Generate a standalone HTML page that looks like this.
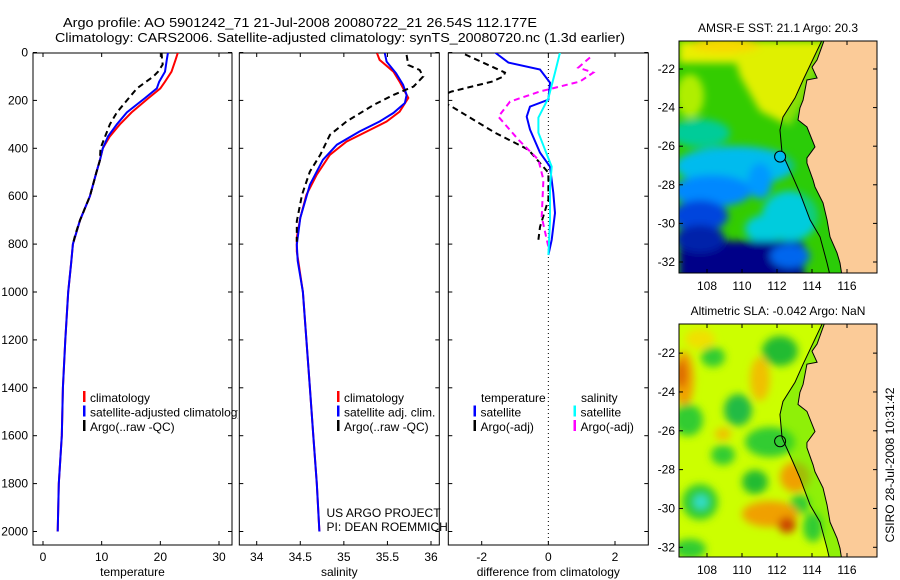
<!DOCTYPE html>
<html><head><meta charset="utf-8"><style>
html,body{margin:0;padding:0;background:#fff;}
svg{display:block;font-family:"Liberation Sans",sans-serif;}
</style></head><body>
<svg id="fig" width="900" height="580" viewBox="0 0 900 580" xmlns="http://www.w3.org/2000/svg">
<defs>
<clipPath id="c1"><rect x="33" y="53" width="199" height="492"/></clipPath>
<clipPath id="c2"><rect x="239.3" y="53" width="200" height="492"/></clipPath>
<clipPath id="c3"><rect x="448.3" y="53" width="200" height="492"/></clipPath>
<clipPath id="cleg1"><rect x="33" y="380" width="205" height="60"/></clipPath>
<clipPath id="cm1"><rect x="679" y="41" width="198" height="232"/></clipPath>
<clipPath id="cm2"><rect x="679" y="324" width="198" height="233"/></clipPath>
<filter id="blur" x="-30%" y="-30%" width="160%" height="160%"><feGaussianBlur stdDeviation="4"/></filter>
</defs>
<text x="63" y="27" font-size="13" textLength="474" lengthAdjust="spacingAndGlyphs">Argo profile: AO 5901242_71 21-Jul-2008 20080722_21 26.54S 112.177E</text>
<text x="55" y="42" font-size="13" textLength="570" lengthAdjust="spacingAndGlyphs">Climatology: CARS2006. Satellite-adjusted climatology: synTS_20080720.nc (1.3d earlier)</text>
<g id="root"></g>
</svg>
<script>
// ---------- data ----------
const depthTicks = [0,200,400,600,800,1000,1200,1400,1600,1800,2000];
const tempTicks = [0,10,20,30];
const salTicks = [34,34.5,35,35.5,36];
const diffTicks = [-2,0,2];

const climDepth = [0,30,80,122,150,190,250,300,350,400,450,500,600,700,800,877,1000,1200,1400,1600,1800,2000];
const climTemp = [23.0,22.6,21.9,20.8,20.0,18.0,15.1,13.1,11.4,10.2,9.7,9.1,8.0,6.3,5.1,4.8,4.3,3.8,3.4,3.2,2.7,2.5];
const satTemp = [21.3,21.1,20.8,19.8,19.4,17.4,14.3,12.6,11.1,10.2,9.7,9.1,8.0,6.3,5.1,4.8,4.3,3.8,3.4,3.2,2.7,2.5];
const argoDepth = [0,30,50,80,100,150,200,250,300,350,400,450,500,600,700,760,790];
const argoTemp = [20.2,20.3,20.4,19.6,18.8,16.0,14.3,12.6,11.4,10.6,9.8,9.7,9.1,8.0,6.3,5.5,5.2];

const salClimDepth = [3,31,80,122,190,247,288,323,372,427,510,594,690,773,831,877,1000,1200,1400,1600,1800,2000];
const salClim = [35.38,35.41,35.57,35.64,35.74,35.64,35.49,35.30,35.03,34.84,34.69,34.57,34.50,34.46,34.46,34.48,34.53,34.57,34.61,34.65,34.69,34.72];
const salSatDepth = [3,38,87,135,177,211,252,288,330,385,448,552,690,802,870,1000,1200,1400,1600,1800,2000];
const salSat = [35.47,35.49,35.60,35.68,35.72,35.70,35.57,35.41,35.18,34.92,34.76,34.61,34.50,34.46,34.47,34.53,34.57,34.61,34.65,34.69,34.72];
const salArgoDepth = [10,52,73,100,142,177,219,288,344,427,497,594,705,790];
const salArgo = [35.72,35.74,35.87,35.91,35.80,35.57,35.34,35.03,34.84,34.73,34.61,34.52,34.46,34.46];

const dTSatDepth = [0,42,71,126,197,226,268,322,418,477,586,670,782,845];
const dTSat = [-1.6,-1.2,-0.25,0.05,0,-0.55,-0.65,-0.55,-0.25,0.05,0.15,0.2,0.1,0];
const dTArgoDepth = [8,84,100,122,163,190,226,335,406,502,615,728,782];
const dTArgo = [-2.5,-1.3,-1.35,-1.7,-2.9,-3.4,-2.9,-1.6,-0.6,0,0,-0.25,-0.3];
const dSSatDepth = [0,84,190,272,335,406,477,560,700,845];
const dSSat = [0.35,0.2,0,-0.3,-0.3,-0.1,0.1,0.05,0.05,0];
const dSArgoDepth = [21,63,84,121,163,205,268,364,448,531,686,812];
const dSArgo = [1.25,0.9,1.35,0.95,-0.25,-1.15,-1.5,-0.9,-0.3,-0.15,-0.2,0];

const argoLon = 112.177, argoLat = 26.54;
const coastLon = [114.74,114.29,114.0,114.29,113.71,113.49,113.31,113.2,113.71,114.17,113.71,113.71,114.06,114.17,114.63,114.86,115.03,115.43,115.6,115.71];
const coastLat = [20.4,21.53,21.9,22.47,22.57,23.61,24.02,24.64,25.0,26.04,26.61,26.87,27.75,28.11,28.94,29.82,30.7,31.53,32.05,32.7];
const shelfLon = [114.63,113.49,113.03,112.34,112.17,112.29,112.91,113.31,113.89,114.46,114.86,115.03];
const shelfLat = [20.4,22.57,23.5,24.49,25.16,26.36,27.6,28.43,29.82,30.7,32.05,32.7];
const lonTicks = [108,110,112,114,116];
const latTicks = [22,24,26,28,30,32];

// ---------- helpers ----------
const NS = "http://www.w3.org/2000/svg";
const root = document.getElementById('root');
function mk(tag, attrs, parent){
  const e = document.createElementNS(NS, tag);
  for (const k in attrs) e.setAttribute(k, attrs[k]);
  (parent||root).appendChild(e);
  return e;
}
const yD = d => 52.5 + d*0.2395;
function scaleX(v0, p0, v1, p1){ return v => p0 + (v-v0)*(p1-p0)/(v1-v0); }
const xT = scaleX(0, 43, 30, 219);
const xS = scaleX(34, 256.7, 36, 431);
const xDf = scaleX(-2, 481.7, 2, 615);

function line(g, xs, ds, fx, color, w, dash, name){
  const pts = xs.map((v,i)=> fx(v).toFixed(1)+','+yD(ds[i]).toFixed(1)).join(' ');
  const p = mk('polyline', {points:pts, fill:'none', stroke:color, 'stroke-width':w}, g);
  if (dash) p.setAttribute('stroke-dasharray', dash);
  
  
  return p;
}

function panel(x0, x1, fx, ticks, tickFmt, title, clip, showY, name){
  const g = mk('g', {});
  
  
  const fr = mk('rect', {x:x0, y:53, width:x1-x0, height:492, fill:'#fff', stroke:'#000', 'stroke-width':1}, g);
  
  
  ticks.forEach(t=>{
    const x = fx(t);
    mk('line',{x1:x,y1:53,x2:x,y2:57,stroke:'#000'},g);
    mk('line',{x1:x,y1:545,x2:x,y2:541,stroke:'#000'},g);
    const tl = mk('text',{x:x,y:561,'font-size':12,'text-anchor':'middle'},g);
    tl.textContent = tickFmt(t);
    
    
  });
  depthTicks.forEach(d=>{
    const y = yD(d);
    mk('line',{x1:x0,y1:y,x2:x0+4,y2:y,stroke:'#000'},g);
    mk('line',{x1:x1,y1:y,x2:x1-4,y2:y,stroke:'#000'},g);
    if (showY){
      const tl = mk('text',{x:28,y:y+4,'font-size':12,'text-anchor':'end'},g);
      tl.textContent = d;
      
      
    }
  });
  const at = mk('text',{x:(x0+x1)/2,y:576,'font-size':12,'text-anchor':'middle'},g);
  at.textContent = title;
  
  
  const cg = mk('g',{'clip-path':'url(#'+clip+')'},g);
  return cg;
}

function legend(g, x, y, color, label, name){
  const m = mk('rect',{x:x-1, y:y-11, width:2.5, height:11, fill:color}, g);
  
  
  const t = mk('text',{x:x+6, y:y, 'font-size':12}, g);
  t.textContent = label;
  
  
}

// ---------- panel 1 temperature ----------
const p1 = panel(33, 232, xT, tempTicks, String, 'temperature', 'c1', true, 'temperature-panel');
line(p1, climTemp, climDepth, xT, '#ff0000', 2, null, 'climatology-temp-line');
line(p1, satTemp, climDepth, xT, '#0000ff', 2, null, 'satellite-temp-line');
line(p1, argoTemp, argoDepth, xT, '#000000', 2, '6,4', 'argo-temp-line');

// ---------- panel 2 salinity ----------
const p2 = panel(239.3, 439.3, xS, salTicks, String, 'salinity', 'c2', false, 'salinity-panel');
line(p2, salClim, salClimDepth, xS, '#ff0000', 2, null, 'climatology-sal-line');
line(p2, salSat, salSatDepth, xS, '#0000ff', 2, null, 'satellite-sal-line');
line(p2, salArgo, salArgoDepth, xS, '#000000', 2, '6,4', 'argo-sal-line');

const lg1 = mk('g',{'clip-path':'url(#cleg1)'});


legend(lg1, 84, 402, '#ff0000', 'climatology', 'legend-climatology');
legend(lg1, 84, 416.5, '#0000ff', 'satellite-adjusted climatology', 'legend-satellite-adjusted');
legend(lg1, 84, 431, '#000000', 'Argo(..raw -QC)', 'legend-argo');

const lg2 = mk('g',{});


legend(lg2, 338, 402, '#ff0000', 'climatology', 'legend-climatology');
legend(lg2, 338, 416.5, '#0000ff', 'satellite adj. clim.', 'legend-satellite-adj');
legend(lg2, 338, 431, '#000000', 'Argo(..raw -QC)', 'legend-argo');
const us1 = mk('text',{x:326.5,y:517,'font-size':12});
us1.textContent = 'US ARGO PROJECT';


const us2 = mk('text',{x:326.5,y:531,'font-size':12});
us2.textContent = 'PI: DEAN ROEMMICH';



// ---------- panel 3 difference ----------
const p3 = panel(448.3, 648.3, xDf, diffTicks, String, 'difference from climatology', 'c3', false, 'difference-panel');
const zl = mk('line',{x1:xDf(0),y1:53,x2:xDf(0),y2:545,stroke:'#000','stroke-width':1,'stroke-dasharray':'1,3'},p3);


line(p3, dTArgo, dTArgoDepth, xDf, '#000000', 2, '6,4', 'argo-temp-diff-line');
line(p3, dSArgo, dSArgoDepth, xDf, '#ff00ff', 2, '6,4', 'argo-sal-diff-line');
line(p3, dTSat, dTSatDepth, xDf, '#0000ff', 2, null, 'satellite-temp-diff-line');
line(p3, dSSat, dSSatDepth, xDf, '#00ffff', 2, null, 'satellite-sal-diff-line');
const lg3 = mk('g',{});


const h1 = mk('text',{x:481,y:402,'font-size':12},lg3);
h1.textContent = 'temperature';


const h2 = mk('text',{x:581,y:402,'font-size':12},lg3);
h2.textContent = 'salinity';


legend(lg3, 474.5, 416.5, '#0000ff', 'satellite', 'legend-temp-satellite');
legend(lg3, 474.5, 431, '#000000', 'Argo(-adj)', 'legend-temp-argo');
legend(lg3, 574.5, 416.5, '#00ffff', 'satellite', 'legend-sal-satellite');
legend(lg3, 574.5, 431, '#ff00ff', 'Argo(-adj)', 'legend-sal-argo');

// ---------- maps ----------
function makeMap(top, bottom, latTop, latBot, clip, title, blobs, bg, name, fillCircle, shelfColor){
  const g = mk('g',{});
  
  
  const mx = lon => 707 + (lon-108)*17.5;
  const my = lat => top + (lat-latTop)*(bottom-top)/(latBot-latTop);
  const cg = mk('g',{'clip-path':'url(#'+clip+')'},g);
  const b = mk('rect',{x:679,y:top,width:198,height:bottom-top,fill:bg},cg);
  
  
  const bg2 = mk('g',{filter:'url(#blur)'},cg);
  blobs.forEach(bl=>{
    if (bl.r) mk('rect',{x:bl.r[0],y:bl.r[1]+top,width:bl.r[2],height:bl.r[3],fill:bl.c},bg2);
    else if (bl.p) mk('polygon',{points:bl.p.map((v,i)=> i%2? v+top : v).join(','), fill:bl.c},bg2);
    else mk('ellipse',{cx:bl.e[0],cy:bl.e[1]+top,rx:bl.e[2],ry:bl.e[3],fill:bl.c},bg2);
  });
  const sp = shelfLon.map((l,i)=> mx(l)+','+my(shelfLat[i])).concat(coastLon.slice().reverse().map((l,i)=> mx(l)+','+my(coastLat[coastLat.length-1-i])));
  const shelfFill = mk('polygon',{points:sp.join(' '), fill:shelfColor, opacity:0.45},cg);
  
  
  const landPts = coastLon.map((l,i)=> mx(l)+','+my(coastLat[i])).concat([ '880,'+(bottom+5), '880,'+(top-5) ]);
  const land = mk('polygon',{points:landPts.join(' '), fill:'#fbcb98', stroke:'#000','stroke-width':1},cg);
  
  
  const shelf = mk('polyline',{points:shelfLon.map((l,i)=> mx(l)+','+my(shelfLat[i])).join(' '), fill:'none', stroke:'#000','stroke-width':1},cg);
  
  
  const c = mk('circle',{cx:mx(argoLon),cy:my(argoLat),r:5.5,fill:fillCircle,stroke:'#000','stroke-width':1},cg);
  
  
  const fr = mk('rect',{x:679,y:top,width:198,height:bottom-top,fill:'none',stroke:'#000','stroke-width':1},g);
  
  
  lonTicks.forEach(l=>{
    const x = mx(l);
    mk('line',{x1:x,y1:bottom,x2:x,y2:bottom-4,stroke:'#000'},g);
    mk('line',{x1:x,y1:top,x2:x,y2:top+4,stroke:'#000'},g);
    const t = mk('text',{x:x,y:bottom+17,'font-size':12,'text-anchor':'middle'},g);
    t.textContent = l;
    
    
  });
  latTicks.forEach(l=>{
    const y = my(l);
    mk('line',{x1:679,y1:y,x2:683,y2:y,stroke:'#000'},g);
    mk('line',{x1:877,y1:y,x2:873,y2:y,stroke:'#000'},g);
    const t = mk('text',{x:675,y:y+4,'font-size':12,'text-anchor':'end'},g);
    t.textContent = '-'+l;
    
    
  });
  const tt = mk('text',{x:778,y:top-9,'font-size':12,'text-anchor':'middle'},g);
  tt.textContent = title;
  
  
}

const sstBlobs = [
  {r:[679,0,198,22], c:'#e8f000'},
  {p:[730,0, 830,0, 805,60, 790,85, 760,70, 740,35], c:'#e0f000'},
  {e:[725,4,35,8], c:'#f8d800'},
  {e:[690,55,14,22], c:'#b0ee00'},
  {e:[700,92,30,14], c:'#00cc99'},
  {e:[735,125,60,20], c:'#00bbee'},
  {e:[712,150,40,16], c:'#0088ff'},
  {e:[760,140,12,18], c:'#0099ff'},
  {e:[790,175,28,25], c:'#00ccdd'},
  {e:[765,188,20,14], c:'#00ccdd'},
  {e:[700,175,28,16], c:'#0044dd'},
  {r:[679,200,125,40], c:'#000088'},
  {e:[700,198,25,14], c:'#0022aa'},
  {e:[790,215,20,12], c:'#0066ee'}
];
makeMap(41, 273, 20.55, 32.57, 'cm1', 'AMSR-E SST: 21.1 Argo: 20.3', sstBlobs, '#33cc00', 'sst-map', '#00bbee', '#22cc11');

const slaBlobs = [
  {e:[684,55,10,28], c:'#f0a000'},
  {e:[681,50,6,14], c:'#dd6600'},
  {e:[713,33,12,10], c:'#33cc33'},
  {e:[780,27,18,15], c:'#22bb33'},
  {e:[738,86,14,16], c:'#22bb44'},
  {e:[688,96,15,16], c:'#33cc33'},
  {e:[723,131,12,10], c:'#33cc33'},
  {e:[770,118,25,15], c:'#33cc33'},
  {e:[755,158,13,12], c:'#22bb33'},
  {e:[700,178,18,18], c:'#33cc33'},
  {e:[701,178,7,7], c:'#33ddcc'},
  {e:[690,225,16,10], c:'#33cc33'},
  {e:[800,180,10,10], c:'#33cc33'},
  {e:[813,203,10,15], c:'#33cc33'},
  {e:[760,55,10,22], c:'#f0c000'},
  {e:[723,110,8,6], c:'#f0c000'},
  {e:[795,153,15,15], c:'#f0a000'},
  {e:[770,190,28,13], c:'#f0a000'},
  {e:[787,201,9,8], c:'#cc4400'},
  {e:[700,15,15,10], c:'#f0e000'}
];
makeMap(324, 557, 20.5, 32.5, 'cm2', 'Altimetric SLA: -0.042 Argo: NaN', slaBlobs, '#ccff00', 'sla-map', 'none', '#44dd11');

const cs = mk('text',{x:0,y:0,'font-size':12,'text-anchor':'middle',transform:'translate(894,465) rotate(-90)'});
cs.textContent = 'CSIRO 28-Jul-2008 10:31:42';


</script>
</body></html>
